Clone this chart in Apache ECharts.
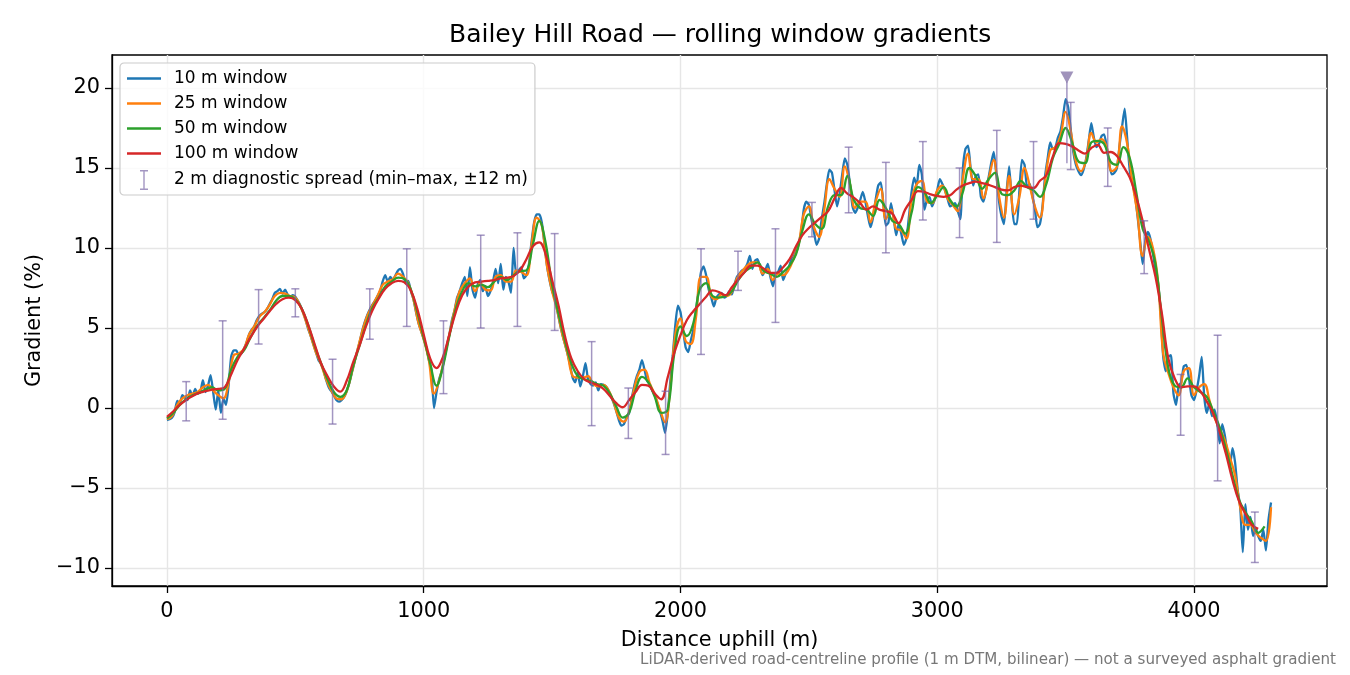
<!DOCTYPE html>
<html><head><meta charset="utf-8">
<script src="https://cdn.jsdelivr.net/npm/echarts@6/dist/echarts.min.js"></script>
<style>html,body{margin:0;padding:0;background:#fff}#c{width:1350px;height:675px}</style>
</head><body><div id="c"></div>
<script>
// ---- data ----
const blueStart = 0, blueStep = 10;
const blue10 = [
-0.75,-0.7,-0.6,-0.25,0.45,0.3,0.8,0.65,0.5,1.1,
0.75,1.2,0.9,1.0,1.75,1.0,1.4,2.05,1.0,-0.1,
1.1,-0.3,0.6,0.2,1.4,3.2,3.6,3.6,3.3,3.4,
3.7,4.1,4.6,4.9,5.1,5.5,5.75,5.9,6.0,6.2,
6.5,6.8,7.2,7.3,7.45,7.15,7.4,7.1,6.95,7.05,
6.95,6.7,6.4,6.0,5.5,4.95,4.5,4.0,3.5,3.0,
2.75,2.35,1.75,1.3,1.05,0.8,0.5,0.4,0.5,0.7,
1.05,1.55,2.2,2.85,3.5,4.1,4.8,5.35,5.8,6.15,
6.45,6.7,7.0,7.3,7.9,8.3,7.9,8.2,8.0,8.3,
8.6,8.7,8.35,7.8,7.95,7.3,6.8,6.0,5.3,4.8,
4.3,3.8,3.0,2.4,0.0,1.0,1.8,2.3,3.1,3.9,
4.6,5.5,6.1,6.9,7.3,7.8,8.2,7.0,8.8,7.4,
6.9,7.7,8.0,7.3,7.6,7.0,7.3,7.9,8.7,7.8,
9.0,7.4,8.2,7.9,7.2,10.0,8.4,8.6,8.8,8.1,
8.3,9.0,10.4,11.6,12.1,12.1,11.6,10.3,8.9,8.0,
7.3,6.9,6.1,5.3,4.6,4.0,3.4,2.7,1.9,1.6,
2.2,1.35,2.0,2.8,1.8,1.5,1.4,1.6,1.1,1.5,
1.45,1.35,1.1,0.7,0.3,-0.2,-0.75,-1.1,-1.0,-0.6,
-0.3,0.6,1.4,2.0,2.4,3.0,2.4,1.7,1.5,1.1,
0.8,0.3,-0.2,-0.8,-1.55,-0.4,1.6,3.3,5.2,6.4,
6.0,4.9,3.8,3.5,4.2,4.9,6.0,7.3,8.5,8.85,
8.3,7.4,6.9,6.35,6.9,7.1,7.2,6.9,7.0,7.3,
7.1,7.7,8.2,8.4,8.6,8.7,9.0,9.5,8.7,9.2,
9.3,8.8,8.3,8.6,9.0,8.2,7.6,8.4,8.5,8.9,
8.0,8.4,8.7,9.2,9.45,9.8,10.3,11.0,12.4,12.9,
12.7,11.8,11.0,10.2,10.6,11.8,12.8,14.0,14.9,14.7,
13.6,12.6,13.4,14.6,15.6,15.2,14.0,12.6,12.2,12.5,
13.0,13.5,12.9,12.0,11.3,11.9,13.0,13.9,14.1,12.8,
11.4,11.6,12.8,11.9,10.8,11.5,10.9,10.2,10.6,12.0,
13.5,14.4,13.9,15.2,14.6,12.4,13.0,13.2,12.6,13.0,
13.6,14.3,14.0,13.6,13.1,12.6,12.7,12.8,12.3,11.8,
15.0,16.2,16.4,15.0,13.9,14.5,14.6,13.2,12.9,13.6,
14.4,15.3,16.0,14.6,13.0,12.0,11.5,13.5,15.1,13.0,
11.5,11.5,13.6,15.5,15.2,13.8,14.0,13.3,12.5,11.3,
11.5,12.6,14.5,15.6,16.6,16.2,16.3,16.9,17.3,18.2,
19.3,18.8,17.4,16.0,15.2,14.8,14.55,14.9,15.6,16.7,
17.8,16.9,16.3,16.5,17.0,17.1,16.3,15.2,14.6,14.7,
15.0,16.4,17.6,18.7,16.8,14.8,14.1,13.3,12.0,10.5,
9.0,10.4,11.0,10.6,9.7,8.6,7.8,6.0,3.2,2.3,
3.2,3.3,0.9,0.2,1.4,1.6,2.6,2.7,1.9,0.8,
0.5,1.1,2.0,3.2,0.7,-0.3,0.3,-0.5,-0.1,-0.9,
-2.2,-1.0,-1.7,-2.8,-3.6,-2.5,-3.4,-5.1,-6.2,-9.0,
-6.0,-7.6,-6.8,-8.0,-7.5,-8.0,-8.3,-7.6,-8.9,-7.0,
-5.9];

const orangeStart = 0, orangeStep = 20;
const orange25 = [
-0.7,-0.5,0.2,0.6,0.8,0.9,1.0,1.3,1.45,1.1,
0.8,0.6,1.6,3.3,3.4,3.7,4.6,5.1,5.7,6.0,
6.45,7.0,7.2,7.15,7.0,6.9,6.35,5.5,4.5,3.5,
2.75,1.8,1.1,0.6,0.55,1.05,2.2,3.5,4.75,5.75,
6.4,7.0,7.7,7.9,8.05,8.4,8.2,7.8,6.8,5.3,
4.3,3.0,0.9,1.7,3.1,4.6,6.1,7.3,7.8,8.1,
7.3,7.8,7.4,7.35,8.2,8.3,7.9,7.9,8.6,8.5,
8.3,10.2,11.9,11.4,8.9,7.3,6.1,4.6,3.4,2.0,
1.9,1.9,2.0,1.5,1.35,1.45,1.1,0.35,-0.6,-0.85,
-0.2,1.2,2.25,2.4,1.55,0.85,-0.1,-0.9,1.2,4.6,
5.6,4.2,4.0,5.6,8.2,8.2,7.0,6.8,7.1,7.0,
7.25,8.1,8.55,8.9,9.1,9.1,8.4,8.7,8.0,8.4,
8.3,8.6,9.3,10.2,12.1,12.6,11.3,10.7,12.4,14.3,
13.7,13.2,15.1,14.0,12.5,12.9,12.9,11.6,12.9,13.7,
11.8,12.4,11.2,11.1,10.6,13.0,14.0,14.2,12.9,12.8,
13.6,13.9,13.1,12.7,12.3,14.4,15.9,14.3,14.3,13.1,
14.3,15.5,13.3,11.9,14.5,12.1,13.2,15.0,13.9,12.6,
11.9,14.1,16.1,16.3,17.0,18.5,17.3,15.4,14.8,15.5,
17.2,16.6,16.8,16.3,14.8,15.1,17.6,16.5,14.1,12.1,
9.5,10.7,10.0,7.9,3.4,2.2,1.3,0.8,2.3,2.5,
0.8,1.3,1.5,0.5,-0.6,-1.3,-2.0,-3.1,-4.2,-6.2,
-7.3,-7.3,-7.8,-8.1,-8.3,-6.2];

const greenStart = 0, greenStep = 25;
const green50 = [
-0.65,-0.3,0.2,0.55,0.8,0.95,1.15,1.3,1.1,1.2,
2.4,3.2,3.6,4.4,5.1,5.6,6.1,6.7,7.0,7.0,
6.8,6.2,5.2,3.9,2.8,1.8,1.0,0.7,1.1,2.6,
3.9,5.2,6.25,6.9,7.6,7.9,8.15,8.05,7.4,6.0,
4.4,2.8,1.4,2.6,4.5,6.2,7.3,7.8,7.6,7.7,
7.55,7.9,8.2,8.0,8.3,8.55,8.6,10.2,11.7,10.3,
7.7,5.9,4.2,2.8,2.0,1.8,1.7,1.5,1.4,0.9,
0.1,-0.6,-0.3,1.1,1.95,1.6,0.7,-0.3,-0.1,3.3,
5.1,4.5,5.3,7.4,7.8,7.0,6.9,7.0,7.3,8.0,
8.5,8.8,9.1,8.55,8.4,8.2,8.5,8.9,9.6,11.1,
12.1,11.5,11.2,12.6,13.3,13.3,14.5,13.0,12.5,12.4,
12.0,13.0,12.5,11.7,11.5,10.9,12.2,13.8,13.5,12.8,
13.3,13.8,13.0,12.6,13.5,15.0,14.5,13.7,14.3,14.7,
13.4,13.3,13.6,14.2,13.8,13.6,13.2,14.0,15.6,16.5,
17.5,16.6,15.4,15.3,16.6,16.7,16.5,15.4,15.2,16.3,
15.6,13.5,11.2,10.4,9.0,5.6,2.5,1.4,1.3,1.85,
1.3,1.0,0.7,-0.2,-1.2,-2.6,-4.2,-5.7,-6.5,-7.1,
-7.8,-7.4];

const redStart = 0, redStep = 25;
const red100 = [
-0.55,-0.2,0.2,0.5,0.75,0.95,1.05,1.15,1.2,1.3,
2.1,3.0,3.7,4.4,5.05,5.55,6.05,6.5,6.8,6.9,
6.75,6.2,5.2,4.0,2.8,2.0,1.35,1.02,1.7,2.85,
3.9,5.1,6.1,6.85,7.45,7.8,7.95,7.85,7.35,6.2,
4.6,3.1,2.5,3.2,4.6,6.0,7.05,7.6,7.85,7.9,
7.95,8.0,8.1,8.15,8.25,8.6,9.3,10.1,10.35,9.6,
8.0,6.4,4.5,3.1,2.3,1.8,1.6,1.45,1.2,0.75,
0.3,0.05,0.5,1.0,1.45,1.4,0.9,0.55,1.9,3.4,
4.55,5.5,6.05,6.5,6.95,7.35,7.25,7.05,7.55,8.05,
8.5,8.9,8.9,8.7,8.45,8.45,8.8,9.3,10.1,10.8,
11.25,11.6,11.95,12.3,13.1,13.75,13.4,13.15,12.8,12.4,
12.6,12.4,12.3,12.15,11.55,12.4,13.0,13.55,13.5,13.35,
13.25,13.2,13.3,13.65,13.9,14.05,14.15,14.05,13.95,13.8,
13.65,13.6,13.8,13.9,13.8,13.75,14.2,14.55,15.7,16.55,
16.5,16.35,16.1,15.9,16.25,16.45,15.95,16.0,15.75,15.1,
14.4,13.2,11.7,9.9,8.2,5.9,3.1,1.85,1.3,1.35,
1.35,1.05,0.4,-0.35,-1.5,-2.9,-4.5,-5.8,-6.6,-7.3,
-7.55];

const spreadX = [75,217,357,500,645,790,934,1077,1222,1365,1510,1654,1797,1942,2080,2224,2370,2512,2655,2800,2944,3087,3232,3375,3520,3664,3806,3948,4092,4237];
const spreadLow = [-0.8,-0.7,4.0,5.7,-1.0,4.3,5.1,0.9,5.0,5.1,4.85,-1.1,-1.9,-2.9,3.35,7.35,5.35,10.7,12.2,9.7,11.75,10.65,10.35,11.8,14.9,13.85,8.4,-1.7,-4.55,-9.65];
const spreadHigh = [1.65,5.45,7.4,7.45,3.05,7.45,9.95,5.45,10.8,10.95,10.9,4.15,1.25,1.05,9.95,9.8,11.2,12.85,16.3,15.35,16.65,15.0,17.35,16.65,19.1,17.5,11.7,2.1,4.55,-6.5];

const peakX = 3505, peakY = 20.65, peakStemLow = 15.3, peakStemHigh = 20.4;

const xTicks = [0,1000,2000,3000,4000];
const yTicks = [-10,-5,0,5,10,15,20];

const seriesNames = ['10 m window','25 m window','50 m window','100 m window'];
const spreadName = '2 m diagnostic spread (min\u2013max, \u00b112 m)';
const titleText = 'Bailey Hill Road \u2014 rolling window gradients';
const footText = 'LiDAR-derived road-centreline profile (1 m DTM, bilinear) \u2014 not a surveyed asphalt gradient';

// ---- build ----
const FONT = 'DejaVu Sans';
const colors = ['#1f77b4','#ff7f0e','#2ca02c','#d62728'];
const ebColor = 'rgba(120,100,165,0.68)';
const toPairs = (start, step, vals) => vals.map((v, i) => [start + i * step, v]);
const lineIcon = 'path://M0,0H34V2.4H0Z';
const ibeamIcon = 'path://M0,0H8V1.5H4.7V18.5H8V20H0V18.5H3.3V1.5H0Z';
const minus = v => v < 0 ? '\u2212' + Math.abs(v) : String(v);

function lineSeries(name, color, data, smooth) {
  return { name, type: 'line', data, showSymbol: false, symbol: 'none', smooth,
    lineStyle: { color, width: 2.3 }, itemStyle: { color }, z: 2, silent: true };
}

const chart = echarts.init(document.getElementById('c'));
chart.setOption({
  animation: false,
  backgroundColor: '#fff',
  title: { text: titleText, left: 444, top: 18,
    textStyle: { fontFamily: FONT, fontSize: 25, fontWeight: 'normal', color: '#000' } },
  grid: { left: 112, right: 23, top: 55, bottom: 89, show: true, borderColor: '#000', borderWidth: 1.3 },
  legend: {
    orient: 'vertical', left: 120, top: 63, padding: [7, 7, 5, 7], itemGap: 8,
    itemWidth: 34, itemHeight: 20,
    backgroundColor: 'rgba(255,255,255,0.8)', borderColor: '#cccccc', borderWidth: 1.2, borderRadius: 4,
    textStyle: { fontFamily: FONT, fontSize: 17, color: '#000', padding: [0, 0, 0, 8] },
    data: [
      { name: seriesNames[0], icon: lineIcon, itemStyle: { color: colors[0] } },
      { name: seriesNames[1], icon: lineIcon, itemStyle: { color: colors[1] } },
      { name: seriesNames[2], icon: lineIcon, itemStyle: { color: colors[2] } },
      { name: seriesNames[3], icon: lineIcon, itemStyle: { color: colors[3] } },
      { name: spreadName, icon: ibeamIcon, itemStyle: { color: ebColor } }
    ],
    selectedMode: false
  },
  xAxis: {
    type: 'value', min: -214, max: 4518,
    axisLine: { show: true, onZero: false, lineStyle: { color: '#000', width: 1.3 } },
    axisTick: { show: true, length: 7, lineStyle: { color: '#000', width: 1.3 }, customValues: xTicks },
    axisLabel: { customValues: xTicks, fontFamily: FONT, fontSize: 20.8, color: '#000', margin: 15,
      formatter: v => String(v) },
    splitLine: { show: true, lineStyle: { color: '#e6e6e6', width: 1.4 } },
    name: 'Distance uphill (m)', nameLocation: 'middle', nameGap: 44,
    nameTextStyle: { fontFamily: FONT, fontSize: 20.8, color: '#000' }
  },
  yAxis: {
    type: 'value', min: -11.12, max: 22.06,
    axisLine: { show: true, onZero: false, lineStyle: { color: '#000', width: 1.3 } },
    axisTick: { show: true, length: 7, lineStyle: { color: '#000', width: 1.3 }, customValues: yTicks },
    axisLabel: { customValues: yTicks, fontFamily: FONT, fontSize: 20.8, color: '#000', margin: 12, formatter: minus },
    splitLine: { show: true, lineStyle: { color: '#e6e6e6', width: 1.4 } },
    name: 'Gradient (%)', nameLocation: 'middle', nameGap: 66, nameRotate: 90,
    nameTextStyle: { fontFamily: FONT, fontSize: 20.8, color: '#000' }
  },
  graphic: [{ type: 'text', right: 14, top: 653, silent: true,
    style: { text: footText, font: '15.1px "DejaVu Sans"', fill: '#777777' } }],
  series: [
    lineSeries(seriesNames[0], colors[0], toPairs(blueStart, blueStep, blue10), 0.2),
    lineSeries(seriesNames[1], colors[1], toPairs(orangeStart, orangeStep, orange25), 0.4),
    lineSeries(seriesNames[2], colors[2], toPairs(greenStart, greenStep, green50), 0.4),
    lineSeries(seriesNames[3], colors[3], toPairs(redStart, redStep, red100), 0.4),
    {
      name: spreadName, type: 'custom', z: 3, silent: true,
      itemStyle: { color: ebColor },
      data: spreadX.map((x, i) => [x, spreadLow[i], spreadHigh[i]]),
      encode: { x: 0, y: [1, 2] },
      renderItem: function (params, api) {
        const x = api.value(0);
        const lo = api.coord([x, api.value(1)]);
        const hi = api.coord([x, api.value(2)]);
        const w = 4;
        const st = { stroke: ebColor, lineWidth: 1.5 };
        return { type: 'group', children: [
          { type: 'line', shape: { x1: lo[0], y1: lo[1], x2: hi[0], y2: hi[1] }, style: st },
          { type: 'line', shape: { x1: lo[0] - w, y1: lo[1], x2: lo[0] + w, y2: lo[1] }, style: st },
          { type: 'line', shape: { x1: hi[0] - w, y1: hi[1], x2: hi[0] + w, y2: hi[1] }, style: st }
        ] };
      }
    },
    { name: 'peak stem', type: 'line', z: 3, silent: true, showSymbol: false, symbol: 'none',
      data: [[peakX, peakStemLow], [peakX, peakStemHigh]], lineStyle: { color: ebColor, width: 1.5 } },
    { name: 'peak', type: 'scatter', z: 4, silent: true, symbol: 'triangle', symbolRotate: 180,
      symbolSize: [13, 12], data: [[peakX, peakY]], itemStyle: { color: '#8878aa' } }
  ]
});
</script></body></html>
